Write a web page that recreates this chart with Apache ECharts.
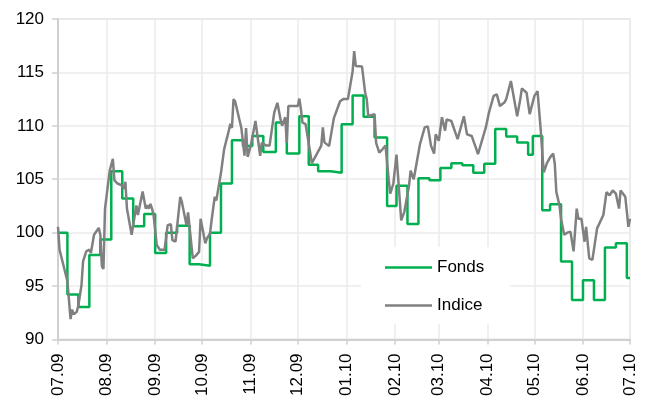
<!DOCTYPE html>
<html>
<head>
<meta charset="utf-8">
<script src="https://cdn.jsdelivr.net/npm/echarts@6/dist/echarts.min.js"></script>
<style>
  html, body { margin: 0; padding: 0; background: #ffffff; }
  #chart { width: 646px; height: 399px; }
</style>
</head>
<body>
<div id="chart"></div>
<script>
// Period start: 1 July 2009; x positions are days counted from it.
const startYear = 2009;
const startMonth = 6; // July (0-based)

const monthLabels = ['07.09', '08.09', '09.09', '10.09', '11.09', '12.09',
                     '01.10', '02.10', '03.10', '04.10', '05.10', '06.10', '07.10'];

const seriesNames = ['Fonds', 'Indice'];

// Weekly fund values (day offset, value); each value holds until the next date.
const fondsDays = [0, 6, 13, 20, 27, 34, 41, 48, 55, 62, 69, 76, 84, 90, 97, 104, 111, 118,
  124, 131, 139, 146, 154, 160, 166, 174, 181, 188, 195, 202, 210, 216, 223, 230, 237,
  244, 251, 258, 265, 272, 279, 286, 293, 300, 303, 309, 314, 321, 328, 335, 342, 349,
  356, 363, 365];
const fondsValues = [100.0, 94.2, 93.05, 97.9, 99.35, 105.75, 103.2, 100.6, 101.75, 98.1,
  100.0, 100.65, 97.05, 96.9, 100.0, 104.6, 108.65, 108.1, 109.05, 107.55, 110.3, 107.4,
  110.9, 106.35, 105.75, 105.6, 110.15, 112.85, 110.85, 108.9, 102.5, 104.4, 100.8, 105.1,
  104.9, 106.05, 106.5, 106.3, 105.6, 106.45, 109.7, 109.0, 108.45, 107.3, 109.05, 102.1,
  102.65, 97.3, 93.7, 95.55, 93.7, 98.6, 99.0, 95.75, 95.75];

// Benchmark index (day offset, value).
const indiceDays = [0, 1, 2, 6, 8, 9, 10, 12, 13, 15, 16, 18, 20, 21, 23, 26, 27, 28, 29, 30,
  33, 35, 36, 38, 41, 42, 43, 44, 47, 49, 50, 51, 54, 56, 57, 58, 59, 60, 61, 63, 65, 68,
  70, 72, 73, 75, 78, 79, 82, 83, 86, 88, 90, 91, 94, 95, 97, 98, 100, 101, 104, 106, 109,
  110, 111, 112, 113, 117, 119, 120, 121, 123, 126, 129, 130, 133, 135, 138, 140, 142, 143,
  145, 146, 147, 153, 154, 155, 156, 158, 162, 168, 169, 170, 173, 176, 180, 182, 185, 188,
  189, 190, 194, 196, 197, 198, 202, 203, 205, 207, 209, 211, 212, 214, 216, 219, 221, 224,
  225, 227, 231, 234, 236, 238, 240, 241, 243, 245, 247, 248, 251, 255, 259, 261, 264, 267,
  268, 273, 275, 278, 280, 282, 285, 286, 289, 293, 295, 296, 299, 301, 304, 306, 308, 309,
  310, 312, 314, 316, 317, 318, 320, 321, 323, 325, 327, 329, 331, 332, 334, 336, 337, 339,
  341, 342, 344, 348, 350, 352, 354, 356, 358, 359, 360, 362, 364, 365];
const indiceValues = [100.55, 98.4, 98.25, 95.45, 91.9, 92.8, 92.35, 92.6, 93.2, 95.1, 97.3,
  98.25, 98.4, 98.1, 99.8, 100.45, 99.8, 96.85, 96.6, 102.25, 105.8, 106.9, 104.9, 104.6,
  104.4, 104.1, 104.75, 102.25, 99.8, 101.65, 102.55, 101.65, 103.85, 102.25, 102.55, 102.25,
  102.7, 102.25, 101.65, 98.85, 98.4, 98.4, 100.7, 100.8, 99.3, 99.15, 103.35, 102.9, 100.7,
  101.9, 97.6, 97.85, 98.2, 101.3, 99.0, 99.45, 99.9, 101.15, 103.35, 103.0, 105.6, 107.8,
  109.55, 110.2, 109.8, 112.5, 112.3, 109.8, 107.2, 109.8, 107.1, 108.15, 110.45, 107.2,
  108.4, 108.15, 108.15, 111.25, 112.15, 110.6, 110.0, 110.8, 108.4, 111.85, 111.85, 112.55,
  111.55, 110.3, 110.15, 106.5, 108.15, 109.85, 108.45, 108.1, 110.7, 112.3, 112.5, 112.5,
  115.1, 117.0, 115.6, 115.55, 113.1, 112.5, 110.9, 111.1, 108.4, 107.5, 107.8, 108.15,
  105.0, 103.65, 104.6, 107.3, 101.15, 101.95, 104.4, 105.8, 105.0, 108.3, 109.85, 109.95,
  108.15, 107.4, 109.2, 108.6, 110.8, 109.55, 110.6, 110.45, 108.75, 110.9, 109.2, 109.05,
  107.8, 107.35, 109.85, 111.25, 112.8, 112.95, 111.85, 112.2, 112.5, 114.2, 110.9, 112.5,
  113.5, 113.1, 111.1, 112.8, 113.25, 109.7, 107.5, 105.65, 106.5, 107.05, 107.4, 106.45,
  103.8, 102.55, 101.3, 99.8, 100.0, 100.1, 98.25, 102.25, 101.3, 101.3, 99.15, 100.55,
  97.6, 97.45, 97.3, 100.4, 101.65, 103.8, 103.5, 103.95, 103.65, 102.25, 103.95, 103.8,
  103.35, 100.55, 101.3];

const yMin = 90, yMax = 120, yStep = 5;

const seriesColors = ['#00b050', '#808080'];
const axisGray = '#d0d0d0';
const gridGray = '#ebebeb';
const textFont = 'Liberation Sans, Arial, sans-serif';

function dayToTime(d) {
  return new Date(startYear, startMonth, 1 + d).getTime();
}
function pairs(days, values) {
  return days.map((d, i) => [dayToTime(d), values[i]]);
}
function monthLabel(t) {
  const dt = new Date(t);
  const idx = (dt.getFullYear() - startYear) * 12 + dt.getMonth() - startMonth;
  return monthLabels[idx] !== undefined ? monthLabels[idx] : '';
}

const chart = echarts.init(document.getElementById('chart'), null, { renderer: 'canvas' });

chart.setOption({
  animation: false,
  backgroundColor: '#ffffff',
  grid: {
    left: 58, right: 16, top: 19, bottom: 57,
    show: true, borderColor: '#e4e4e4', borderWidth: 2, backgroundColor: 'transparent'
  },
  legend: {
    data: seriesNames,
    orient: 'vertical',
    left: 361, top: 247,
    backgroundColor: '#ffffff',
    padding: [12, 26, 10, 24],
    itemGap: 21,
    itemWidth: 47,
    itemHeight: 2.5,
    icon: 'rect',
    textStyle: { fontFamily: textFont, fontSize: 17, color: '#000000' }
  },
  xAxis: {
    type: 'time',
    min: dayToTime(0),
    max: new Date(startYear + 1, startMonth, 1).getTime(),
    splitNumber: 12,
    minInterval: 28 * 86400000,
    maxInterval: 31 * 86400000,
    axisLine: { show: true, lineStyle: { color: axisGray, width: 2 } },
    axisTick: { show: true, length: 5, lineStyle: { color: axisGray, width: 1.5 } },
    splitLine: { show: true, lineStyle: { color: gridGray, width: 1.5 } },
    axisLabel: {
      rotate: 90,
      margin: 14,
      fontFamily: textFont,
      fontSize: 17,
      color: '#000000',
      showMinLabel: true,
      showMaxLabel: true,
      hideOverlap: false,
      formatter: monthLabel
    }
  },
  yAxis: {
    type: 'value',
    min: yMin, max: yMax, interval: yStep,
    axisLine: { show: true, lineStyle: { color: axisGray, width: 2 } },
    axisTick: { show: true, length: 6, lineStyle: { color: axisGray, width: 1.5 } },
    splitLine: { show: true, lineStyle: { color: gridGray, width: 1.5 } },
    axisLabel: {
      margin: 14,
      fontFamily: textFont,
      fontSize: 17,
      color: '#000000'
    }
  },
  series: [
    {
      name: seriesNames[0],
      type: 'line',
      step: 'end',
      data: pairs(fondsDays, fondsValues),
      showSymbol: false,
      symbol: 'none',
      lineStyle: { color: seriesColors[0], width: 2.5 },
      itemStyle: { color: seriesColors[0] },
      z: 2
    },
    {
      name: seriesNames[1],
      type: 'line',
      data: pairs(indiceDays, indiceValues),
      showSymbol: false,
      symbol: 'none',
      lineStyle: { color: seriesColors[1], width: 2.5 },
      itemStyle: { color: seriesColors[1] },
      z: 3
    }
  ]
});
</script>
</body>
</html>
